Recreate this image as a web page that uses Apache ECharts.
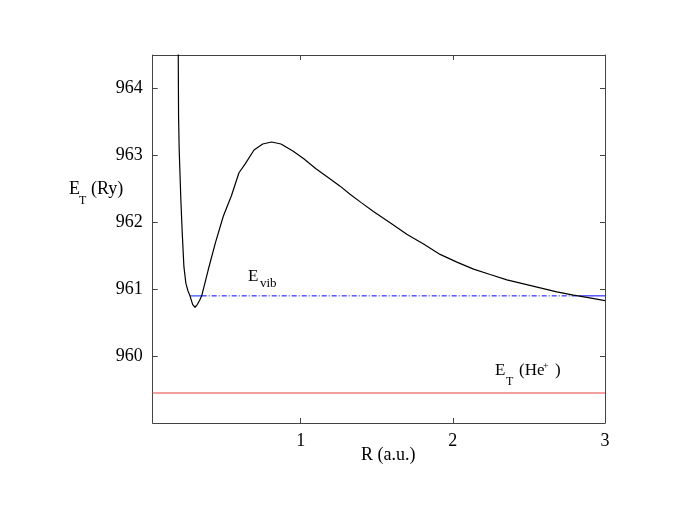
<!DOCTYPE html>
<html>
<head>
<meta charset="utf-8">
<script src="https://cdn.jsdelivr.net/npm/echarts@6/dist/echarts.min.js"></script>
<style>html,body{margin:0;padding:0;background:#fff;}#c{width:681px;height:526px;}</style>
</head>
<body>
<div id="c"></div>
<script>
// ---- data ----
const R_MIN = 0.027, R_MAX = 3.0;
const E_MIN = 959.0, E_MAX = 964.5;
const xTickLabels = [1, 2, 3];
const xTicks = [1, 2];
const yTickLabels = [960, 961, 962, 963, 964];
const potentialR = [0.193, 0.195, 0.197, 0.201, 0.212, 0.221, 0.232, 0.245, 0.258, 0.272, 0.290, 0.305, 0.320, 0.335, 0.349, 0.392, 0.440, 0.491, 0.545, 0.594, 0.634, 0.693, 0.750, 0.809, 0.870, 0.951, 1.020, 1.100, 1.180, 1.259, 1.324, 1.400, 1.478, 1.590, 1.697, 1.810, 1.916, 2.030, 2.136, 2.245, 2.355, 2.465, 2.574, 2.683, 2.793, 2.900, 3.000];
const potentialE = [965.0, 964.51, 963.59, 963.09, 962.34, 961.85, 961.34, 961.09, 960.98, 960.90, 960.77, 960.73, 960.77, 960.83, 960.90, 961.29, 961.70, 962.09, 962.40, 962.74, 962.87, 963.08, 963.17, 963.20, 963.17, 963.06, 962.95, 962.80, 962.67, 962.54, 962.42, 962.29, 962.16, 961.99, 961.82, 961.67, 961.52, 961.40, 961.30, 961.22, 961.14, 961.08, 961.02, 960.96, 960.91, 960.87, 960.83];
const E_VIB = 960.90;
const vibTurningPoints = [0.272, 0.349, 2.826];
const E_HE = 959.45;

const serif = '"Liberation Serif","DejaVu Serif",serif';
const axisColor = '#444';
const potential = potentialR.map((r, i) => [r, potentialE[i]]);

const chart = echarts.init(document.getElementById('c'), null, {renderer: 'canvas'});
const baseAxis = {
  type: 'value',
  axisLine: {show: true, onZero: false, lineStyle: {color: axisColor, width: 1}},
  splitLine: {show: false},
};
const tickStyle = (vals) => ({inside: true, length: 5, lineStyle: {color: axisColor}, customValues: vals});
chart.setOption({
  animation: false,
  grid: {left: 152.7, right: 76, top: 55, bottom: 103, containLabel: false},
  xAxis: [
    Object.assign({}, baseAxis, {position: 'bottom', min: R_MIN, max: R_MAX,
      axisTick: tickStyle(xTicks),
      axisLabel: {customValues: xTickLabels, margin: 9, color: '#000', fontFamily: serif, fontSize: 18}}),
    Object.assign({}, baseAxis, {position: 'top', min: R_MIN, max: R_MAX,
      axisTick: tickStyle(xTicks), axisLabel: {show: false}})
  ],
  yAxis: [
    Object.assign({}, baseAxis, {position: 'left', min: E_MIN, max: E_MAX,
      axisTick: tickStyle(yTickLabels),
      axisLabel: {customValues: yTickLabels, margin: 10, color: '#000', fontFamily: serif, fontSize: 18}}),
    Object.assign({}, baseAxis, {position: 'right', min: E_MIN, max: E_MAX,
      axisTick: tickStyle(yTickLabels), axisLabel: {show: false}})
  ],
  series: [
    {type: 'line', data: [[R_MIN, E_HE], [R_MAX, E_HE]], symbol: 'none',
      lineStyle: {color: '#f08080', width: 1.5}},
    {type: 'line', data: [[vibTurningPoints[0], E_VIB], [vibTurningPoints[1], E_VIB]], symbol: 'none',
      lineStyle: {color: '#3050ff', width: 1.2}},
    {type: 'line', data: [[vibTurningPoints[1], E_VIB], [vibTurningPoints[2], E_VIB]], symbol: 'none',
      lineStyle: {color: '#0000ff', width: 1, type: [5, 2, 1, 2]}},
    {type: 'line', data: [[vibTurningPoints[2], E_VIB], [R_MAX, E_VIB]], symbol: 'none',
      lineStyle: {color: '#0000ff', width: 1}},
    {type: 'line', data: potential, symbol: 'none', smooth: false, clip: true,
      lineStyle: {color: '#000', width: 1.2}}
  ],
  graphic: [
    {type: 'text', left: 361, top: 446, style: {text: 'R (a.u.)', font: '18px ' + serif, fill: '#000'}},

    {type: 'text', left: 69, top: 180, style: {text: 'E', font: '18px ' + serif, fill: '#000'}},
    {type: 'text', left: 79, top: 195, style: {text: 'T', font: '12px ' + serif, fill: '#000'}},
    {type: 'text', left: 91, top: 180, style: {text: '(Ry)', font: '18px ' + serif, fill: '#000'}},

    {type: 'text', left: 248, top: 268, style: {text: 'E', font: '17px ' + serif, fill: '#000'}},
    {type: 'text', left: 260, top: 277, style: {text: 'vib', font: '13px ' + serif, fill: '#000'}},

    {type: 'text', left: 495, top: 362, style: {text: 'E', font: '17px ' + serif, fill: '#000'}},
    {type: 'text', left: 506, top: 376, style: {text: 'T', font: '12px ' + serif, fill: '#000'}},
    {type: 'text', left: 519, top: 362, style: {text: '(He', font: '17px ' + serif, fill: '#000'}},
    {type: 'text', left: 543, top: 361, style: {text: '+', font: '10px ' + serif, fill: '#000'}},
    {type: 'text', left: 555, top: 362, style: {text: ')', font: '17px ' + serif, fill: '#000'}}
  ]
});
</script>
</body>
</html>
